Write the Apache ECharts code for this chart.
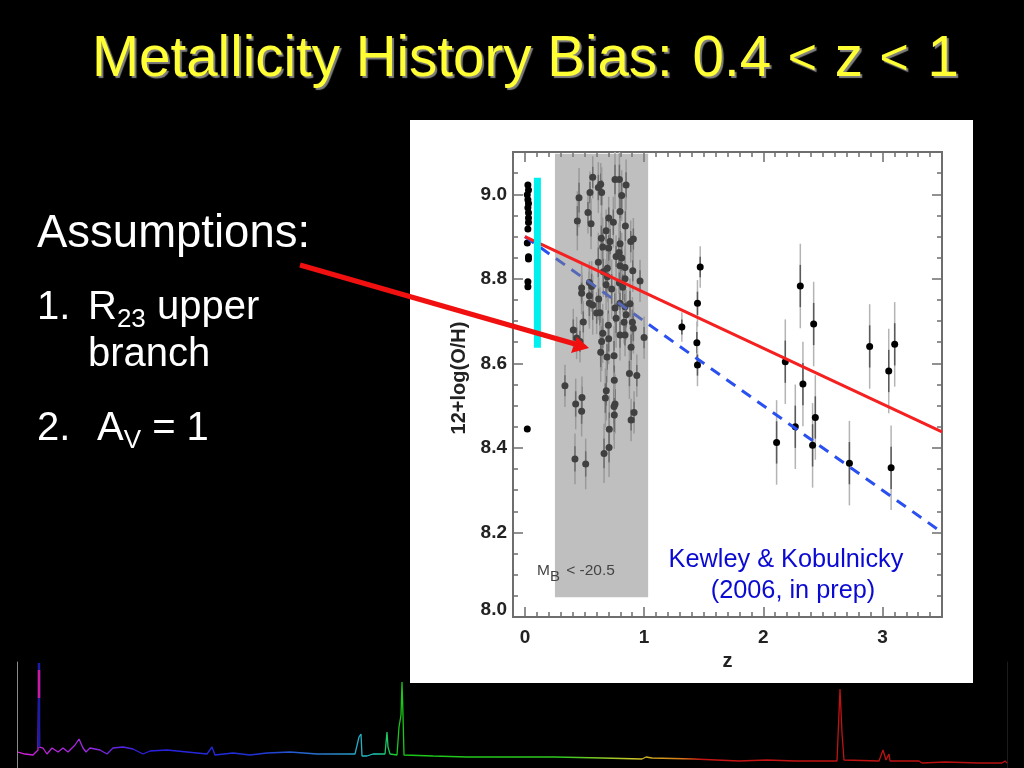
<!DOCTYPE html>
<html>
<head>
<meta charset="utf-8">
<title>Metallicity History Bias</title>
<script src="https://cdn.jsdelivr.net/npm/echarts@6/dist/echarts.min.js"></script>
<style>
html, body { margin: 0; padding: 0; background: #000; }
#chart { width: 1024px; height: 768px; }
</style>
</head>
<body>
<div id="chart"></div>
<script>
// tick values
var xMajor = [0, 1, 2, 3];
var xMinor = [0.1, 0.2, 0.3, 0.4, 0.5, 0.6, 0.7, 0.8, 0.9, 1.1, 1.2, 1.3, 1.4, 1.5, 1.6, 1.7, 1.8, 1.9, 2.1, 2.2, 2.3, 2.4, 2.5, 2.6, 2.7, 2.8, 2.9, 3.1, 3.2, 3.3, 3.4];
var yMajor = [8.0, 8.2, 8.4, 8.6, 8.8, 9.0];
var yMinor = [8.05, 8.1, 8.15, 8.25, 8.3, 8.35, 8.45, 8.5, 8.55, 8.65, 8.7, 8.75, 8.85, 8.9, 8.95, 9.05];

// local galaxies, column near z=0
var localZ = [0.025, 0.03, 0.02, 0.025, 0.03, 0.025, 0.03, 0.03, 0.025, 0.02, 0.03, 0.03, 0.025, 0.025, 0.03, 0.02];
var localOH = [9.022, 9.01, 8.999, 8.987, 8.978, 8.968, 8.944, 8.933, 8.918, 8.885, 8.852, 8.847, 8.793, 8.781, 8.956, 8.445];

// galaxies inside the grey 0.4<z<1 band
var bandZ = [0.569, 0.756, 0.793, 0.849, 0.636, 0.616, 0.644, 0.546, 0.812, 0.454,
  0.529, 0.798, 0.44, 0.555, 0.703, 0.742, 0.843, 0.681, 0.641, 0.714,
  0.91, 0.888, 0.798, 0.653, 0.703, 0.79, 0.765, 0.812, 0.616, 0.798,
  0.84, 0.692, 0.658, 0.905, 0.966, 0.84, 0.692, 0.793, 0.681, 0.476,
  0.541, 0.56, 0.728, 0.821, 0.476, 0.541, 0.619, 0.541, 0.569, 0.882,
  0.798, 0.84, 0.756, 0.63, 0.602, 0.849, 0.765, 0.832, 0.49, 0.902,
  0.7, 0.91, 0.406, 0.653, 0.798, 0.84, 1.0, 0.434, 0.703, 0.644,
  0.462, 0.891, 0.636, 0.748, 0.689, 0.877, 0.939, 0.75, 0.336, 0.683,
  0.479, 0.675, 0.756, 0.748, 0.426, 0.476, 0.916, 0.75, 0.891, 0.708,
  0.706, 0.664, 0.42, 0.51];
var bandOH = [9.04, 9.035, 9.035, 9.022, 9.024, 9.016, 9.004, 9.004, 8.997, 8.992,
  8.957, 8.959, 8.937, 8.93, 8.944, 8.934, 8.925, 8.914, 8.896, 8.888,
  8.894, 8.888, 8.883, 8.875, 8.873, 8.862, 8.853, 8.849, 8.839, 8.831,
  8.827, 8.825, 8.817, 8.819, 8.795, 8.8, 8.805, 8.79, 8.786, 8.778,
  8.791, 8.782, 8.776, 8.78, 8.766, 8.76, 8.752, 8.742, 8.738, 8.741,
  8.742, 8.734, 8.731, 8.72, 8.719, 8.715, 8.707, 8.697, 8.698, 8.697,
  8.69, 8.683, 8.679, 8.671, 8.667, 8.667, 8.661, 8.66, 8.658, 8.652,
  8.652, 8.638, 8.626, 8.618, 8.615, 8.576, 8.571, 8.56, 8.547, 8.535,
  8.519, 8.518, 8.504, 8.498, 8.504, 8.487, 8.484, 8.478, 8.466, 8.444,
  8.401, 8.387, 8.374, 8.362];
var bandErr = [0.05, 0.07, 0.07, 0.06, 0.05, 0.06, 0.06, 0.05, 0.06, 0.07,
  0.05, 0.07, 0.07, 0.06, 0.05, 0.06, 0.07, 0.05, 0.06, 0.06,
  0.05, 0.05, 0.06, 0.07, 0.06, 0.07, 0.05, 0.06, 0.07, 0.06,
  0.05, 0.07, 0.06, 0.05, 0.05, 0.07, 0.06, 0.05, 0.06, 0.06,
  0.05, 0.06, 0.07, 0.06, 0.05, 0.07, 0.05, 0.06, 0.07, 0.06,
  0.05, 0.06, 0.07, 0.06, 0.05, 0.06, 0.07, 0.05, 0.05, 0.06,
  0.07, 0.06, 0.05, 0.07, 0.06, 0.05, 0.05, 0.05, 0.06, 0.07,
  0.05, 0.06, 0.07, 0.07, 0.06, 0.06, 0.05, 0.07, 0.05, 0.07,
  0.05, 0.07, 0.07, 0.08, 0.06, 0.06, 0.05, 0.08, 0.05, 0.08,
  0.07, 0.07, 0.06, 0.06];

// high redshift galaxies
var highZ = [1.471, 1.448, 1.317, 1.443, 1.448, 2.311, 2.423, 2.893, 3.103, 3.053, 2.185, 2.333, 2.437, 2.269, 2.112, 2.414, 2.723, 3.073];
var highOH = [8.828, 8.742, 8.686, 8.649, 8.596, 8.783, 8.693, 8.64, 8.645, 8.582, 8.604, 8.551, 8.472, 8.45, 8.413, 8.406, 8.364, 8.353];
var highErr = [0.049, 0.055, 0.035, 0.05, 0.05, 0.1, 0.1, 0.1, 0.1, 0.1, 0.1, 0.1, 0.1, 0.1, 0.1, 0.1, 0.1, 0.1];

// fitted trends
var trendZ = [0, 3.5];
var redTrend = [8.9, 8.438];
var blueTrend = [8.9, 8.2];

// grey band and cyan bar extents
var greyBandZ = [0.252, 1.034];
var greyBandOH = [8.047, 9.096];
var cyanZ = 0.105;
var cyanOH = [8.637, 9.039];

// spectrum along the bottom of the slide (channel, flux)
var specChan = [1, 8, 16, 21, 22, 22.5, 26, 30, 35, 41, 46, 51, 58, 62, 66, 69, 73, 83, 90, 96,
  106, 116, 126, 133, 150, 170, 190, 195, 198, 216, 233, 250, 273, 300, 338, 342, 344, 345, 350, 356,
  368, 370, 371, 373, 380, 382, 382, 384, 385, 386, 387, 416, 450, 495, 538, 585, 625, 629, 635, 677,
  722, 750, 778, 820, 823, 825, 827, 862, 866, 868, 869, 872, 873, 902, 905, 928, 962, 985, 988, 990];
var specFlux = [16, 14, 13, 18, 105, 21, 20, 14, 20, 16, 20, 16, 23, 29, 20, 16, 20, 18, 14, 20,
  21, 19, 14, 17, 18, 16, 14, 21, 13, 15, 13, 15, 16, 14, 14, 31, 34, 12, 12, 14,
  14, 36, 21, 14, 13, 13, 41, 53, 86, 53, 13, 12, 11, 11, 11, 10, 9, 11, 10, 9,
  7, 8, 7, 7, 79, 35, 8, 7, 18, 16, 8, 14, 7, 7, 5, 6, 5, 5, 7, 5];
var peakChan = [22, 22];
var peakFlux = [21, 105];
var peakMidFlux = [70, 98];

function pairs(xs, ys) {
    return xs.map(function (x, i) { return [x, ys[i]]; });
}

var barData = [];
bandZ.forEach(function (z, i) { barData.push([z, bandOH[i], bandErr[i]]); });
highZ.forEach(function (z, i) { barData.push([z, highOH[i], highErr[i]]); });

var dotData = pairs(localZ, localOH).concat(pairs(bandZ, bandOH), pairs(highZ, highOH));

var frameColor = '#6e6e6e';
var sans = '"Liberation Sans", Arial, sans-serif';

// one axis per side and per tick length, ECharts has only one tick length on an axis
function makeXAxis(pos, ticks, len, labels) {
    return {
        type: 'value', gridIndex: 0, position: pos, min: -0.1, max: 3.5,
        axisLine: { show: true, onZero: false, lineStyle: { color: frameColor, width: 2 } },
        axisTick: { show: true, inside: true, length: len, customValues: ticks, lineStyle: { color: frameColor, width: 1.5 } },
        axisLabel: labels ? {
            show: true, customValues: xMajor, margin: 11, color: '#222',
            fontFamily: sans, fontWeight: 'bold', fontSize: 19
        } : { show: false },
        splitLine: { show: false }
    };
}
function makeYAxis(pos, ticks, len, labels) {
    return {
        type: 'value', gridIndex: 0, position: pos, min: 8.0, max: 9.1,
        axisLine: { show: true, onZero: false, lineStyle: { color: frameColor, width: 2 } },
        axisTick: { show: true, inside: true, length: len, customValues: ticks, lineStyle: { color: frameColor, width: 1.5 } },
        axisLabel: labels ? {
            show: true, customValues: yMajor, margin: 6, color: '#222',
            fontFamily: sans, fontWeight: 'bold', fontSize: 19, lineHeight: 14,
            verticalAlignMinLabel: 'bottom',
            formatter: function (v) { return v.toFixed(1); }
        } : { show: false },
        splitLine: { show: false }
    };
}

var xAxes = [
    makeXAxis('bottom', xMajor, 10, true),
    makeXAxis('bottom', xMinor, 5, false),
    makeXAxis('top', xMajor, 10, false),
    makeXAxis('top', xMinor, 5, false)
];
xAxes[0].name = 'z';
xAxes[0].nameLocation = 'middle';
xAxes[0].nameGap = 34;
xAxes[0].nameTextStyle = { color: '#222', fontFamily: sans, fontWeight: 'bold', fontSize: 20 };

var yAxes = [
    makeYAxis('left', yMajor, 10, true),
    makeYAxis('left', yMinor, 5, false),
    makeYAxis('right', yMajor, 10, false),
    makeYAxis('right', yMinor, 5, false)
];

// spectrum axes
xAxes.push({
    type: 'value', gridIndex: 1, min: 0, max: 990,
    axisLine: { show: false }, axisTick: { show: false }, axisLabel: { show: false }, splitLine: { show: false }
});
yAxes.push({
    type: 'value', gridIndex: 1, min: 0, max: 106, position: 'left',
    axisLine: { show: true, onZero: false, lineStyle: { color: '#8a8a8a', width: 1 } },
    axisTick: { show: false }, axisLabel: { show: false }, splitLine: { show: false }
});
yAxes.push({
    type: 'value', gridIndex: 1, min: 0, max: 106, position: 'right',
    axisLine: { show: true, onZero: false, lineStyle: { color: '#1c1c1c', width: 1 } },
    axisTick: { show: false }, axisLabel: { show: false }, splitLine: { show: false }
});

function renderBars(params, api) {
    var z = api.value(0), oh = api.value(1), err = api.value(2);
    var top = api.coord([z, Math.min(oh + err, 9.1)]);
    var bottom = api.coord([z, oh - err]);
    var top2 = api.coord([z, oh + err / 2]);
    var bottom2 = api.coord([z, oh - err / 2]);
    return {
        type: 'group',
        children: [
            { type: 'line', shape: { x1: top[0], y1: top[1], x2: bottom[0], y2: bottom[1] }, style: { stroke: '#b4b4b4', lineWidth: 1.5 } },
            { type: 'line', shape: { x1: top2[0], y1: top2[1], x2: bottom2[0], y2: bottom2[1] }, style: { stroke: '#5a5a5a', lineWidth: 1.5 } }
        ]
    };
}

function renderBand(params, api) {
    var a = api.coord([greyBandZ[0], greyBandOH[1]]);
    var b = api.coord([greyBandZ[1], greyBandOH[0]]);
    return {
        type: 'rect',
        shape: { x: a[0], y: a[1], width: b[0] - a[0], height: b[1] - a[1] },
        style: { fill: 'rgba(127,127,127,0.5)' }
    };
}

var slideText = { fill: '#fff', font: '40px ' + sans, textVerticalAlign: 'middle' };
var subStyle = { fontSize: 26, fontFamily: sans, padding: [24, 0, 0, 0], fill: '#fff' };

function text(x, y, str, extra) {
    var style = { x: x, y: y, text: str };
    var base = extra || slideText;
    for (var k in base) style[k] = base[k];
    return { type: 'text', z: 50, style: style };
}

var option = {
    backgroundColor: '#000',
    animation: false,
    grid: [
        { left: 513, top: 152, width: 429, height: 465, containLabel: false },
        { left: 17, top: 662, width: 990, height: 106, containLabel: false }
    ],
    xAxis: xAxes,
    yAxis: yAxes,
    graphic: [
        // white panel holding the figure
        { type: 'rect', z: -10, shape: { x: 410, y: 120, width: 563, height: 563 }, style: { fill: '#fff' } },
        text(92, 60, 'Metallicity History Bias: {n|0.4} {lt|<} z {lt|<} {e|1}', {
            fill: '#ffff33', font: '56.5px ' + sans, textVerticalAlign: 'middle',
            textShadowColor: '#808080', textShadowOffsetX: 2, textShadowOffsetY: 2, textShadowBlur: 1,
            rich: {
                n: { fontSize: 56.5, fontFamily: sans, padding: [0, 0, 0, 4], fill: '#ffff33' },
                lt: { fontSize: 50, fontFamily: sans, padding: [0, 2, 0, 1], fill: '#ffff33' },
                e: { fontSize: 56.5, fontFamily: sans, padding: [0, 0, 0, 1], fill: '#ffff33' }
            }
        }),
        text(37, 234, 'Assumptions:', { fill: '#fff', font: '45.5px ' + sans, textVerticalAlign: 'middle' }),
        text(37, 308, '1.'),
        text(88, 308, 'R{s|23} upper', {
            fill: '#fff', font: '40px ' + sans, textVerticalAlign: 'middle', rich: { s: subStyle }
        }),
        text(88, 355, 'branch'),
        text(37, 429, '2.'),
        text(97, 429, 'A{s|V} = 1', {
            fill: '#fff', font: '40px ' + sans, textVerticalAlign: 'middle', rich: { s: subStyle }
        }),
        text(786, 560, 'Kewley & Kobulnicky', { fill: '#0a0ad2', font: '25.3px ' + sans, textAlign: 'center', textVerticalAlign: 'middle' }),
        text(793, 591, '(2006, in prep)', { fill: '#0a0ad2', font: '25.3px ' + sans, textAlign: 'center', textVerticalAlign: 'middle' }),
        text(537, 571, 'M{s|B} < -20.5', {
            fill: '#444', font: '15.5px ' + sans, textVerticalAlign: 'middle',
            rich: { s: { fontSize: 15, fontFamily: sans, padding: [12, 2, 0, 0], fill: '#444' } }
        }),
        {
            type: 'text', z: 50, x: 459, y: 378, rotation: Math.PI / 2,
            style: { text: '12+log(O/H)', fill: '#222', font: 'bold 20px ' + sans, textAlign: 'center', textVerticalAlign: 'middle' }
        },
        // arrow from the text to the band
        { type: 'line', z: 60, shape: { x1: 300, y1: 265, x2: 575, y2: 344 }, style: { stroke: '#f01010', lineWidth: 5 } },
        { type: 'polygon', z: 60, shape: { points: [[589, 348], [577, 337], [571, 353]] }, style: { fill: '#f01010' } }
    ],
    series: [
        {
            type: 'custom', name: 'error bars', xAxisIndex: 0, yAxisIndex: 0, z: 2,
            renderItem: renderBars, data: barData, encode: { x: 0, y: 1 }, silent: true
        },
        {
            type: 'scatter', name: 'galaxies', xAxisIndex: 0, yAxisIndex: 0, z: 3,
            data: dotData, symbolSize: 7, itemStyle: { color: '#000', opacity: 1 }, silent: true
        },
        {
            type: 'line', name: 'closed box', xAxisIndex: 0, yAxisIndex: 0, z: 4,
            data: pairs(trendZ, blueTrend), symbol: 'none',
            lineStyle: { color: '#2a50f0', width: 3, type: [11, 8] }, silent: true
        },
        {
            type: 'custom', name: 'band', xAxisIndex: 0, yAxisIndex: 0, z: 5,
            renderItem: renderBand, data: [[greyBandZ[0], greyBandOH[0]]], silent: true
        },
        {
            type: 'line', name: 'trend', xAxisIndex: 0, yAxisIndex: 0, z: 6,
            data: pairs(trendZ, redTrend), symbol: 'none',
            lineStyle: { color: '#f52020', width: 3 }, silent: true
        },
        {
            type: 'line', name: 'local range', xAxisIndex: 0, yAxisIndex: 0, z: 7,
            data: [[cyanZ, cyanOH[0]], [cyanZ, cyanOH[1]]], symbol: 'none',
            lineStyle: { color: '#00f0f0', width: 7, cap: 'butt' }, silent: true
        },
        {
            type: 'line', name: 'spectrum', xAxisIndex: 4, yAxisIndex: 4, z: 3,
            data: pairs(specChan, specFlux), symbol: 'none',
            lineStyle: {
                width: 1.3,
                color: new echarts.graphic.LinearGradient(0, 0, 1, 0, [
                    { offset: 0, color: '#d81fd8' },
                    { offset: 0.07, color: '#a02be0' },
                    { offset: 0.13, color: '#2a20e0' },
                    { offset: 0.24, color: '#2030d8' },
                    { offset: 0.33, color: '#2a90c8' },
                    { offset: 0.36, color: '#20c8c0' },
                    { offset: 0.385, color: '#18c818' },
                    { offset: 0.55, color: '#30c820' },
                    { offset: 0.62, color: '#c8c828' },
                    { offset: 0.67, color: '#d87a18' },
                    { offset: 0.69, color: '#c81414' },
                    { offset: 1, color: '#b81010' }
                ])
            },
            silent: true
        },
        {
            type: 'line', name: 'spectrum peak', xAxisIndex: 4, yAxisIndex: 4, z: 4,
            data: pairs(peakChan, peakFlux), symbol: 'none',
            lineStyle: { color: '#1c1ca8', width: 2.5 }, silent: true
        },
        {
            type: 'line', name: 'spectrum peak middle', xAxisIndex: 4, yAxisIndex: 4, z: 5,
            data: pairs(peakChan, peakMidFlux), symbol: 'none',
            lineStyle: { color: '#c81c9c', width: 2.5 }, silent: true
        }
    ]
};

var myChart = echarts.init(document.getElementById('chart'), null, { width: 1024, height: 768 });
myChart.setOption(option);
</script>
</body>
</html>
